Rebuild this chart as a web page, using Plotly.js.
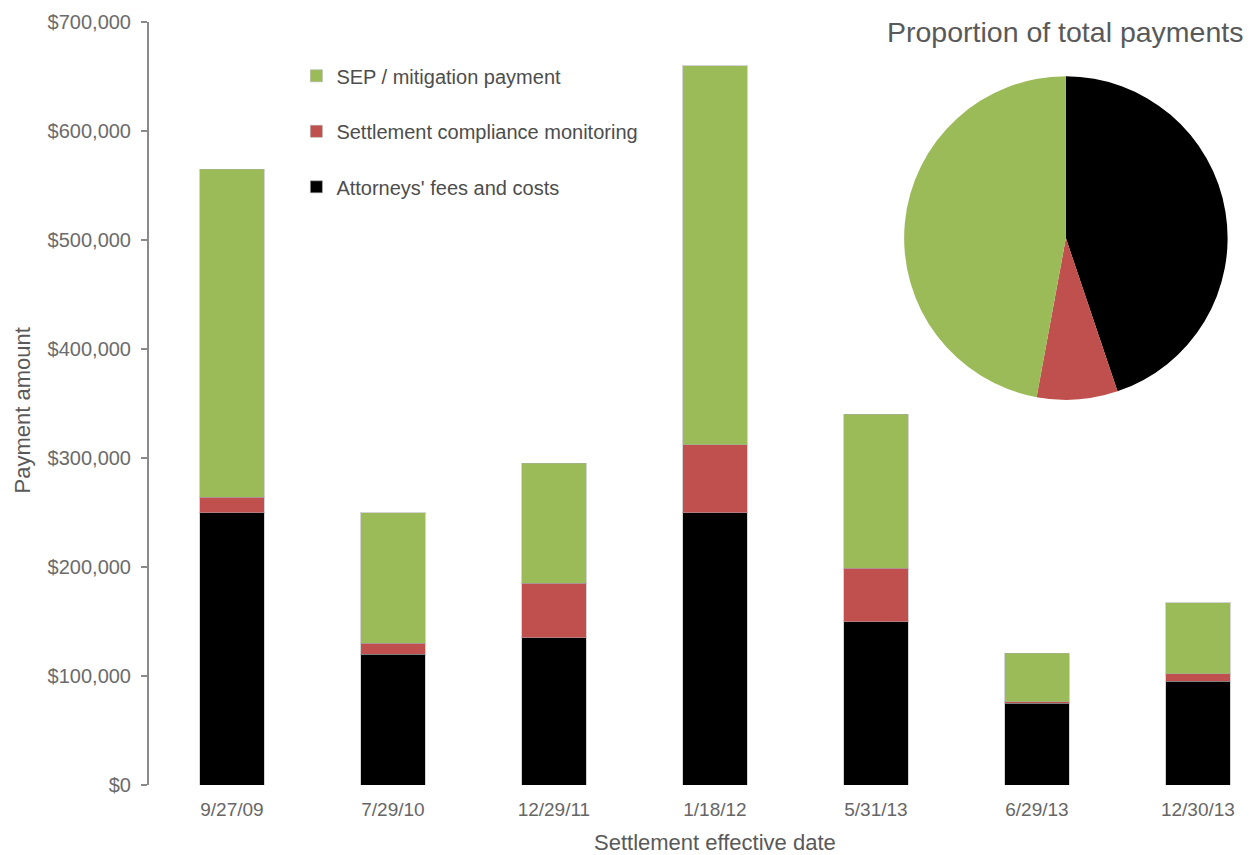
<!DOCTYPE html>
<html>
<head>
<meta charset="utf-8">
<script src="https://cdn.plot.ly/plotly-3.0.1.min.js"></script>
<style>html,body{margin:0;padding:0;background:#fff;}#chart{width:1253px;height:855px;}</style>
</head>
<body>
<div id="chart"></div>
<script>
const dates = ["9/27/09", "7/29/10", "12/29/11", "1/18/12", "5/31/13", "6/29/13", "12/30/13"];
const attorneysFees = [250000, 120000, 135000, 250000, 150000, 75000, 95000];
const compliance = [14000, 10000, 50000, 62000, 49000, 1500, 7000];
const sepMitigation = [301000, 120000, 110000, 348000, 141000, 44500, 65000];
const seriesNames = ["Attorneys' fees and costs", "Settlement compliance monitoring", "SEP / mitigation payment"];
const seriesColors = ["#000000", "#C0504D", "#9BBB59"];

const sum = a => a.reduce((s, v) => s + v, 0);
const totals = [sum(attorneysFees), sum(compliance), sum(sepMitigation)];

const font = "'Liberation Sans', Arial, sans-serif";
const textColor = "#595959";

const barData = [attorneysFees, compliance, sepMitigation].map((vals, i) => ({
  type: "bar",
  x: dates,
  y: vals,
  name: seriesNames[i],
  legendgroup: "g" + i,
  legendrank: 3 - i,
  marker: {color: seriesColors[i], line: {color: "rgba(170,170,170,0.5)", width: 1}},
  width: 0.4,
  hoverinfo: "x+y+name"
}));

const pie = {
  type: "pie",
  labels: seriesNames,
  values: totals,
  sort: false,
  direction: "clockwise",
  rotation: 0,
  marker: {colors: seriesColors},
  textinfo: "none",
  showlegend: false,
  domain: {x: [0.684, 0.977], y: [0.5046, 0.929]}
};

const layout = {
  width: 1253,
  height: 855,
  margin: {l: 149, r: 0, t: 22, b: 70},
  paper_bgcolor: "#fff",
  plot_bgcolor: "#fff",
  barmode: "stack",
  font: {family: font, color: textColor, size: 17},
  showlegend: true,
  legend: {
    x: 0.1335, y: 0.955, xanchor: "left", yanchor: "top",
    traceorder: "grouped",
    tracegroupgap: 26.5,
    font: {size: 20, color: "#4d4d4d", family: font},
    itemwidth: 30,
    bgcolor: "rgba(0,0,0,0)"
  },
  xaxis: {
    type: "category",
    range: [-0.515, 6.342],
    showline: false,
    ticks: "",
    showgrid: false,
    zeroline: false,
    tickfont: {size: 19, color: "#666"},
    ticklabelstandoff: 11
  },
  yaxis: {
    range: [0, 700000],
    dtick: 100000,
    tickprefix: "$",
    tickformat: ",d",
    showline: true,
    linecolor: "#8a8a8a",
    linewidth: 2,
    ticks: "outside",
    ticklen: 6,
    tickcolor: "#8a8a8a",
    tickwidth: 2,
    showgrid: false,
    zeroline: false,
    ticklabelstandoff: 6,
    tickfont: {size: 20, color: "#6b6b6b"}
  },
  annotations: [
    {text: "Proportion of total payments", xref: "paper", yref: "paper",
     x: 0.8297, y: 0.987, xanchor: "center", yanchor: "middle", showarrow: false,
     font: {size: 28.5, color: textColor, family: font}},
    {text: "Payment amount", xref: "paper", yref: "paper",
     x: -0.115, y: 0.491, xanchor: "center", yanchor: "middle", textangle: -90, showarrow: false,
     font: {size: 22, color: textColor, family: font}},
    {text: "Settlement effective date", xref: "paper", yref: "paper",
     x: 0.5127, y: -0.0755, xanchor: "center", yanchor: "middle", showarrow: false,
     font: {size: 22, color: textColor, family: font}}
  ]
};

Plotly.newPlot("chart", barData.concat([pie]), layout, {displayModeBar: false, responsive: false});
</script>
</body>
</html>
